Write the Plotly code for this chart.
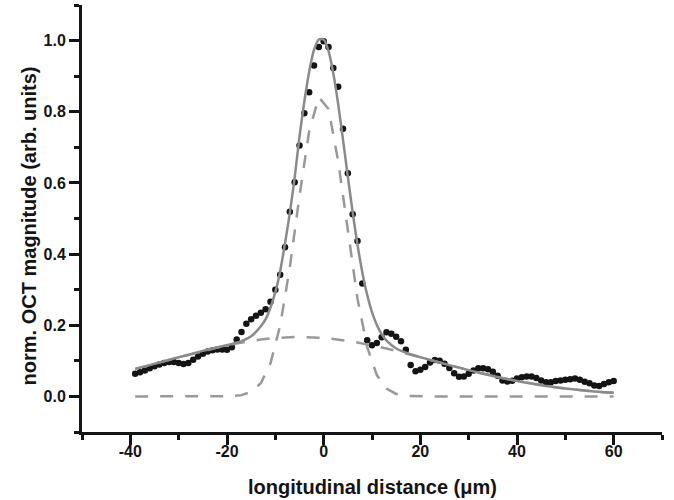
import plotly.graph_objects as go

# ── Data ──────────────────────────────────────────────────────────────
# measured OCT magnitude (black dots), 1 µm steps
x_meas = list(range(-39, 61))
y_meas = [
    0.064, 0.068, 0.073, 0.079, 0.085, 0.090, 0.094, 0.097, 0.097, 0.094,   # -39..-30
    0.091, 0.094, 0.103, 0.112, 0.120, 0.126, 0.130, 0.132, 0.132, 0.131,   # -29..-20
    0.138, 0.160, 0.181, 0.204, 0.217, 0.227, 0.235, 0.245, 0.266, 0.300,   # -19..-10
    0.342, 0.419, 0.519, 0.602, 0.705, 0.796, 0.855, 0.930, 0.982, 0.998,   # -9..0
    0.982, 0.923, 0.870, 0.752, 0.627, 0.512, 0.437, 0.317, 0.158, 0.144,   # 1..10
    0.150, 0.166, 0.180, 0.176, 0.168, 0.155, 0.131, 0.088, 0.071, 0.075,   # 11..20
    0.083, 0.095, 0.102, 0.100, 0.092, 0.080, 0.065, 0.055, 0.056, 0.064,   # 21..30
    0.073, 0.079, 0.079, 0.076, 0.069, 0.058, 0.045, 0.042, 0.044, 0.050,   # 31..40
    0.054, 0.056, 0.056, 0.052, 0.045, 0.040, 0.040, 0.043, 0.045, 0.047,   # 41..50
    0.048, 0.050, 0.047, 0.041, 0.037, 0.031, 0.029, 0.035, 0.040, 0.043,   # 51..60
]

# total fit (solid grey line)
x_fit_total = list(range(-39, -12, 2)) + list(range(-12, 13)) + list(range(13, 60, 2)) + [60]
y_fit_total = [
    0.0773, 0.0844, 0.0917, 0.0991, 0.1065, 0.1137, 0.1210, 0.1279, 0.1346, 0.1408,
    0.1475, 0.1553, 0.1688, 0.1971,
    0.2170, 0.2500, 0.2930, 0.3520, 0.4300, 0.5150, 0.6150, 0.7306, 0.8284, 0.9123,
    0.9738, 1.0030, 1.0030, 0.9708, 0.9073, 0.8214, 0.7218, 0.6176, 0.5171, 0.4261,
    0.3484, 0.2856, 0.2369, 0.2008, 0.1749,
    0.1567, 0.1348, 0.1229, 0.1141, 0.1065, 0.0991, 0.0917, 0.0844, 0.0773, 0.0704,
    0.0638, 0.0575, 0.0516, 0.0460, 0.0408, 0.0360, 0.0316, 0.0276, 0.0239, 0.0207,
    0.0178, 0.0152, 0.0129, 0.0109, 0.0100,
]

# the two fit components (dashed grey lines), 2 µm steps
x_fit_parts = list(range(-39, 60, 2)) + [60]
y_fit_narrow = [
    0, 0, 0, 0, 0, 0, 0, 0, 0, 0,
    0.0009, 0.0036, 0.0126, 0.0371, 0.0932, 0.1992, 0.3630, 0.5636, 0.7457, 0.8408,
    0.8078, 0.6614, 0.4614, 0.2744, 0.1390, 0.0600, 0.0221, 0.0069, 0.0019, 0.0004,
    0, 0, 0, 0, 0, 0, 0, 0, 0, 0,
    0, 0, 0, 0, 0, 0, 0, 0, 0, 0,
    0,
]
y_fit_broad = [
    0.0773, 0.0844, 0.0917, 0.0991, 0.1065, 0.1137, 0.1210, 0.1279, 0.1346, 0.1408,
    0.1466, 0.1517, 0.1562, 0.1600, 0.1630, 0.1652, 0.1666, 0.1670, 0.1666, 0.1652,
    0.1630, 0.1600, 0.1562, 0.1517, 0.1466, 0.1408, 0.1346, 0.1279, 0.1210, 0.1137,
    0.1065, 0.0991, 0.0917, 0.0844, 0.0773, 0.0704, 0.0638, 0.0575, 0.0516, 0.0460,
    0.0408, 0.0360, 0.0316, 0.0276, 0.0239, 0.0207, 0.0178, 0.0152, 0.0129, 0.0109,
    0.0100,
]

x_tickvals = [-40, -20, 0, 20, 40, 60]
x_ticktext = ['-40', '-20', '0', '20', '40', '60']

# ── Style ─────────────────────────────────────────────────────────────
BLACK = '#141414'
SOLID = '#8a8a8a'
DASH  = '#999999'
FONT  = 'Liberation Sans, Arial, sans-serif'

fig = go.Figure()

fig.add_trace(go.Scatter(
    x=x_meas, y=y_meas, mode='markers',
    marker=dict(size=6.5, color=BLACK),
    name='data',
))

fig.add_trace(go.Scatter(
    x=x_fit_parts, y=y_fit_narrow, mode='lines',
    line=dict(color=DASH, width=2.5, dash='13px,12px'),
    name='narrow',
))

fig.add_trace(go.Scatter(
    x=x_fit_parts, y=y_fit_broad, mode='lines',
    line=dict(color=DASH, width=2.5, dash='13px,12px'),
    name='broad',
))

fig.add_trace(go.Scatter(
    x=x_fit_total, y=y_fit_total, mode='lines',
    line=dict(color=SOLID, width=2.5, shape='spline', smoothing=0.6),
    name='fit',
))

axis_common = dict(
    showline=True, linewidth=3, linecolor=BLACK,
    ticks='outside', ticklen=10, tickwidth=2.5, tickcolor=BLACK,
    showgrid=False, zeroline=False,
    tickfont=dict(family=FONT, size=16, color=BLACK, weight='bold'),
)

fig.update_layout(
    width=674, height=500,
    margin=dict(l=82, r=12, t=5, b=68),
    plot_bgcolor='white', paper_bgcolor='white',
    showlegend=False,
    xaxis=dict(
        **axis_common,
        range=[-50, 70],
        tickmode='array', tickvals=x_tickvals, ticktext=x_ticktext,
        ticklabelstandoff=-7,
        minor=dict(ticks='outside', ticklen=5, tickwidth=2.5, tickcolor=BLACK,
                   tickmode='linear', tick0=-50, dtick=10),
    ),
    yaxis=dict(
        **axis_common,
        range=[-0.1, 1.1],
        tickmode='linear', tick0=0, dtick=0.2, tickformat='.1f',
        minor=dict(ticks='outside', ticklen=5, tickwidth=2.5, tickcolor=BLACK,
                   tickmode='linear', tick0=-0.1, dtick=0.1),
    ),
    annotations=[
        dict(text='longitudinal distance (\u03bcm)', xref='paper', yref='paper',
             x=0.5, y=-0.159, xanchor='center', yanchor='bottom', showarrow=False,
             font=dict(family=FONT, size=20, color=BLACK, weight='bold')),
        dict(text='norm. OCT magnitude (arb. units)', xref='paper', yref='paper',
             x=-0.091, y=0.482, xanchor='center', yanchor='middle', showarrow=False,
             textangle=-90,
             font=dict(family=FONT, size=20, color=BLACK, weight='bold')),
    ],
)

# drop the browser's default body margin so the figure sits at the page corner
fig.write_html('out.html', config={'displayModeBar': False},
               post_script="document.body.style.margin='0';")
